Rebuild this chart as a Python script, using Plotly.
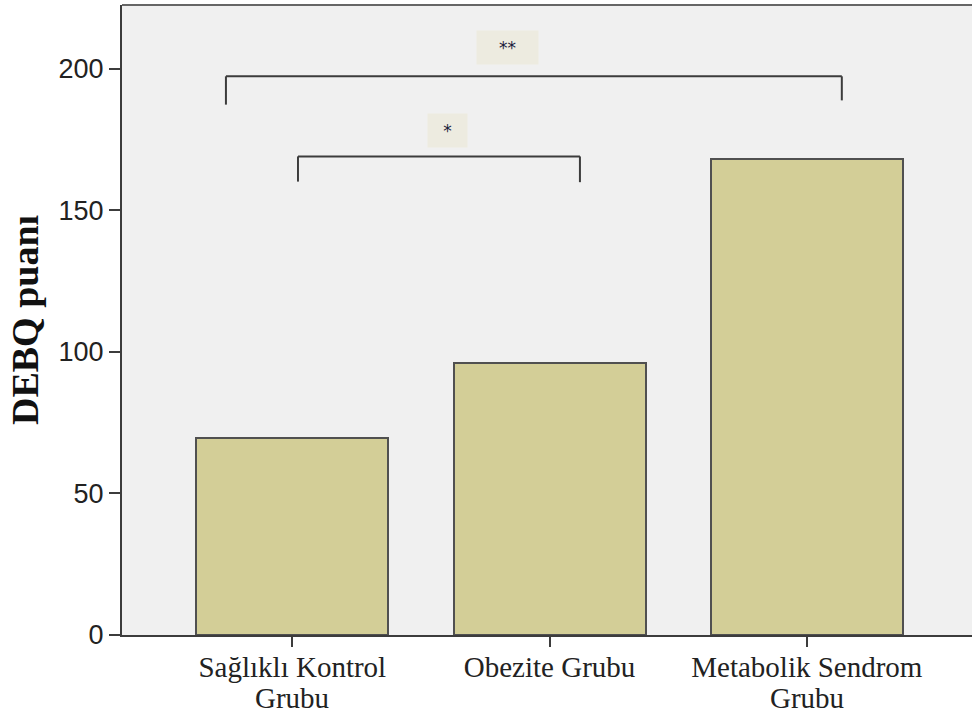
import plotly.graph_objects as go

# DEBQ scores per group
groups = ["Sağlıklı Kontrol<br>Grubu", "Obezite Grubu", "Metabolik Sendrom<br>Grubu"]
debq_scores = [69.6, 96.1, 168.2]

# Significance brackets: [left x, right x], bar height, left/right tick ends, label
bracket_x = [[-0.258, 2.136], [0.022, 1.118]]
bracket_y = [197.4, 169.1]
bracket_ends = [[187.4, 188.9], [160.2, 160.0]]
bracket_labels = ["**", "*"]
label_x = [0.838, 0.604]
label_y = [207.6, 178.1]

line_col = "#3c3c3c"
serif = "Liberation Serif"

fig = go.Figure()
fig.add_trace(go.Bar(
    x=[0, 1, 2],
    y=debq_scores,
    width=0.746,
    marker=dict(color="#d3ce97", line=dict(color="#505050", width=2)),
    hoverinfo="skip",
))

for (x0, x1), yb, (e0, e1) in zip(bracket_x, bracket_y, bracket_ends):
    fig.add_shape(type="line", x0=x0, x1=x1, y0=yb, y1=yb,
                  line=dict(color=line_col, width=2))
    fig.add_shape(type="line", x0=x0, x1=x0, y0=yb, y1=e0,
                  line=dict(color=line_col, width=2))
    fig.add_shape(type="line", x0=x1, x1=x1, y0=yb, y1=e1,
                  line=dict(color=line_col, width=2))

for lx, ly, txt, w in zip(label_x, label_y, bracket_labels, [59, 37]):
    fig.add_annotation(x=lx, y=ly, text=txt, showarrow=False,
                       font=dict(family="DejaVu Sans", size=17, color="#1c1c3c"),
                       bgcolor="#edebe0", width=w, height=31)

# category labels: first line as tick text, continuation line underneath
first_lines = [g.split("<br>")[0] for g in groups]
for i, g in enumerate(groups):
    parts = g.split("<br>")
    if len(parts) > 1:
        fig.add_annotation(x=i, xref="x", y=0, yref="paper", yanchor="middle",
                           yshift=-63, text=parts[1], showarrow=False,
                           font=dict(family=serif, size=29, color="#222222"))

# top frame line
fig.add_shape(type="line", xref="paper", yref="paper", x0=0, x1=1, y0=1, y1=1,
              line=dict(color="#666666", width=2))

fig.update_layout(
    width=972, height=713,
    margin=dict(l=122, r=0, t=5, b=78, autoexpand=False),
    paper_bgcolor="white",
    plot_bgcolor="#f0f0f0",
    showlegend=False,
    bargap=0,
)
fig.update_xaxes(
    range=[-0.662, 2.642], automargin=False,
    tickmode="array", tickvals=[0, 1, 2], ticktext=first_lines,
    ticks="outside", ticklen=10, tickcolor=line_col, tickwidth=1.5,
    ticklabelstandoff=-5,
    showline=True, linecolor=line_col, linewidth=2,
    showgrid=False, zeroline=False,
    tickfont=dict(family=serif, size=29, color="#222222"),
)
fig.update_yaxes(
    range=[0, 222.6], automargin=False,
    tickvals=[0, 50, 100, 150, 200],
    ticks="outside", ticklen=11, tickcolor=line_col, tickwidth=1.5,
    showline=True, linecolor=line_col, linewidth=2,
    showgrid=False, zeroline=False,
    tickfont=dict(family="Liberation Sans", size=27, color="#222222"),
    title=dict(text="<b>DEBQ puanı</b>",
               font=dict(family=serif, size=38, color="#111111"),
               standoff=8),
)

fig.write_html("out.html")
